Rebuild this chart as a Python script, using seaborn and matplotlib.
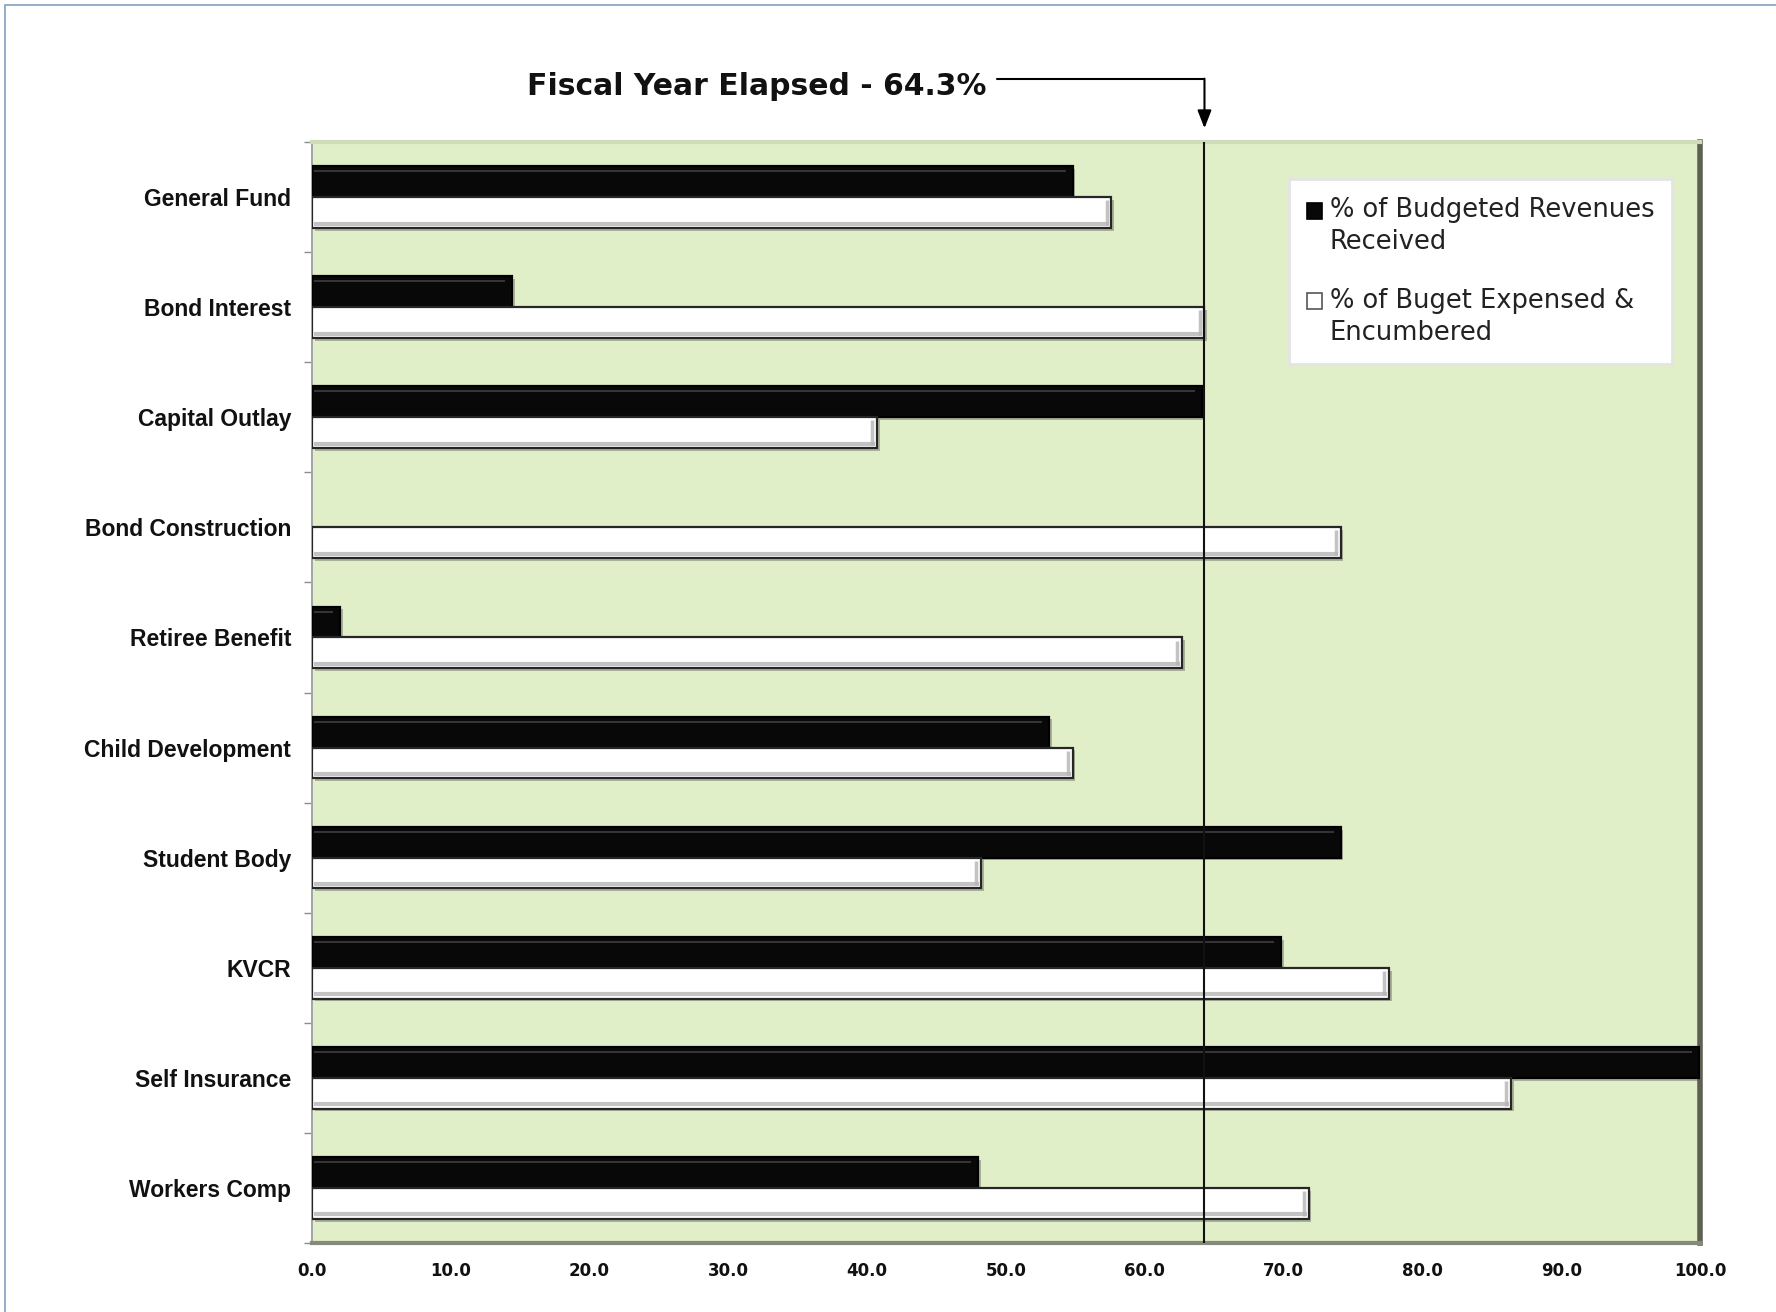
import matplotlib
matplotlib.use("Agg")
import matplotlib.pyplot as plt
import matplotlib.patheffects as pe
from matplotlib.patches import Rectangle
from matplotlib.legend_handler import HandlerPatch
from matplotlib.transforms import blended_transform_factory
import numpy as np
import pandas as pd
import seaborn as sns

# ---- data -------------------------------------------------------------
funds = [
    "General Fund", "Bond Interest", "Capital Outlay", "Bond Construction",
    "Retiree Benefit", "Child Development", "Student Body", "KVCR",
    "Self Insurance", "Workers Comp",
]
revenues_received = [54.8, 14.4, 64.1, 0.0, 2.0, 53.1, 74.1, 69.8, 99.9, 48.0]
budget_expensed = [57.6, 64.3, 40.7, 74.1, 62.7, 54.8, 48.2, 77.6, 86.4, 71.8]
series_names = ["% of Budgeted Revenues Received", "% of Buget Expensed & Encumbered"]
legend_labels = ["% of Budgeted Revenues\nReceived", "% of Buget Expensed &\nEncumbered"]
fiscal_year_elapsed = 64.3
x_ticks = [0, 10, 20, 30, 40, 50, 60, 70, 80, 90, 100]

df = pd.DataFrame({
    "fund": funds * 2,
    "value": revenues_received + budget_expensed,
    "series": [series_names[0]] * len(funds) + [series_names[1]] * len(funds),
})

# ---- figure -----------------------------------------------------------
sns.set_theme(style="white")
plt.rcParams["font.family"] = ["DejaVu Sans"]

W, H = 1776, 1312
fig = plt.figure(figsize=(W / 100, H / 100), dpi=100, facecolor="white")

# outer chart frame
frame = Rectangle((5 / W, -0.05), 1.2, 1 - 5 / H + 0.05, transform=fig.transFigure,
                  fill=False, edgecolor="#8ea6c4", linewidth=1.3, zorder=0)
fig.patches.append(frame)

left, right, top, bottom = 312, 1700, 142, 1243
ax = fig.add_axes([left / W, 1 - bottom / H, (right - left) / W, (bottom - top) / H])
ax.set_facecolor("#e1efc8")

sns.barplot(
    data=df, x="value", y="fund", hue="series", orient="h",
    palette=["#080808", "#ffffff"], width=0.56, gap=0, saturation=1,
    ax=ax, legend=True,
)

shadow = [pe.SimplePatchShadow(offset=(2, -2), shadow_rgbFace="#555555", alpha=0.4), pe.Normal()]
edge_cols = ["#000000", "#262626"]
for cont, ec in zip(ax.containers, edge_cols):
    for bar in cont:
        if bar.get_width() <= 0:
            bar.set_visible(False)
            continue
        bar.set_edgecolor(ec)
        bar.set_linewidth(1.6)
        bar.set_path_effects(shadow)
        bar.set_zorder(3)

# bevel shading on the bars
black_bars, white_bars = ax.containers[0], ax.containers[1]
for bar in black_bars:
    w = bar.get_width()
    if w <= 0:
        continue
    y0, h = bar.get_y(), bar.get_height()
    ax.plot([0.15, w - 0.5], [y0 + h * 0.16] * 2, color="#4a4a4a", lw=1.4, zorder=4,
            solid_capstyle="butt", alpha=0.7)
for bar in white_bars:
    w = bar.get_width()
    if w <= 0:
        continue
    y0, h = bar.get_y(), bar.get_height()
    ax.plot([0.15, w - 0.15], [y0 + h * 0.86] * 2, color="#b4b4b4", lw=3, zorder=4,
            solid_capstyle="butt", alpha=0.8)
    ax.plot([w - 0.35] * 2, [y0 + h * 0.1, y0 + h * 0.9], color="#b4b4b4", lw=2.5, zorder=4,
            solid_capstyle="butt", alpha=0.8)

ax.set_xlim(0, 100)
ax.set_ylim(len(funds) - 0.5, -0.5)
ax.set_xlabel("")
ax.set_ylabel("")

ax.set_xticks(x_ticks)
ax.set_xticklabels([f"{t:.1f}" for t in x_ticks], fontsize=12, fontweight="bold", color="#111111")
ax.tick_params(axis="x", length=0, pad=14)

ax.set_yticks(range(len(funds)))
ax.set_yticklabels(funds, fontsize=16.5, fontweight="bold", color="#111111",
                   family=["Liberation Sans", "DejaVu Sans"])
ax.tick_params(axis="y", which="major", length=0, pad=15)
ax.set_yticks(np.arange(-0.5, len(funds), 1.0), minor=True)
ax.tick_params(axis="y", which="minor", length=6, width=1, color="#8c8c8c", left=True)

# plot area border with a raised look
ax.spines["left"].set_color("#a4a4a4")
ax.spines["left"].set_linewidth(1.4)
ax.spines["top"].set_color("#cfdcba")
ax.spines["top"].set_linewidth(3)
ax.spines["right"].set_color("#5e6053")
ax.spines["right"].set_linewidth(4)
ax.spines["bottom"].set_color("#868a7c")
ax.spines["bottom"].set_linewidth(3)

# fiscal year elapsed marker
ax.axvline(fiscal_year_elapsed, color="#111111", lw=1.5, zorder=6)
trans = blended_transform_factory(ax.transData, ax.transAxes)
ax.text(48.6, 1.050, f"Fiscal Year Elapsed - {fiscal_year_elapsed}%", transform=trans,
        ha="right", va="center", fontsize=21.5, fontweight="bold", color="#111111", clip_on=False)
ax.plot([49.35, fiscal_year_elapsed], [1.057, 1.057], transform=trans, color="black",
        lw=1.5, clip_on=False)
ax.annotate("", xy=(fiscal_year_elapsed, 1.0125), xycoords=trans,
            xytext=(fiscal_year_elapsed, 1.0575), textcoords=trans,
            arrowprops=dict(arrowstyle="-|>,head_length=0.9,head_width=0.35",
                            color="black", lw=1.5, shrinkA=0, shrinkB=0))


# legend swatch aligned with the first line of a two-line label
class TopAlignedPatch(HandlerPatch):
    def __init__(self, shift, **kw):
        super().__init__(**kw)
        self.shift = shift

    def create_artists(self, legend, orig_handle, xdescent, ydescent, width, height,
                       fontsize, trans):
        p = Rectangle((-xdescent, -ydescent + self.shift), width, height,
                      facecolor=orig_handle.get_facecolor(),
                      edgecolor=orig_handle.get_edgecolor(),
                      linewidth=orig_handle.get_linewidth(), transform=trans)
        return [p]


leg_fs = 18.5
line_sp = 1.3
handles, _ = ax.get_legend_handles_labels()
for h, ec in zip(handles, ["#000000", "#555555"]):
    h.set_edgecolor(ec)
    h.set_linewidth(1.2)
leg = ax.legend(handles, legend_labels, loc="upper right", bbox_to_anchor=(0.98, 0.966),
                fontsize=leg_fs, frameon=True, fancybox=False, shadow=False, framealpha=1,
                handlelength=0.6, handleheight=0.6, handletextpad=0.3,
                labelspacing=1.25, borderpad=0.7, borderaxespad=0,
                handler_map={h: TopAlignedPatch(shift=0.5 * leg_fs * line_sp) for h in handles})
leg.get_frame().set_facecolor("white")
leg.get_frame().set_edgecolor("#e4e4e4")
leg.get_frame().set_linewidth(2)
for t in leg.get_texts():
    t.set_color("#222222")
    t.set_linespacing(line_sp)

fig.savefig("out.png", dpi=100, facecolor="white")
